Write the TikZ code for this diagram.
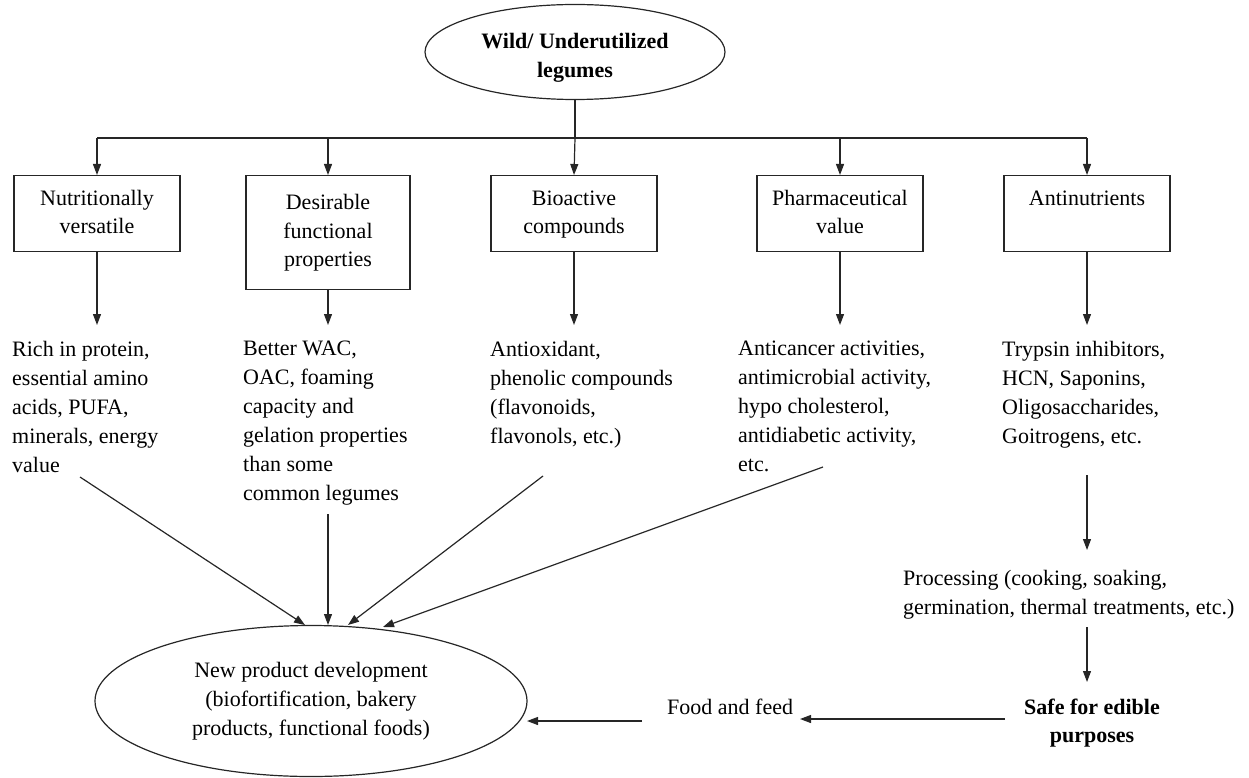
\documentclass[tikz,border=0pt]{standalone}
\usepackage{fontspec}
\setmainfont{Liberation Serif}
\usetikzlibrary{shapes.geometric,arrows.meta}
\begin{document}
\begin{tikzpicture}[x=1pt,y=-1pt,
  every node/.style={font=\fontsize{22}{29}\selectfont, inner sep=0pt},
  ln/.style={line width=1.2pt, draw=black!85},
  arr/.style={ln, -{Triangle[length=11pt,width=8pt]}},
  oval/.style={draw=black!85, line width=1.2pt, ellipse},
  catbox/.style={draw=black!85, line width=1.2pt, rectangle, minimum width=166pt, anchor=north, align=center, font=\fontsize{22}{28.5}\selectfont},
  desc/.style={anchor=north west, align=left}
]
\useasboundingbox (0,0) rectangle (1249,778);

% top ellipse
\node[oval, minimum width=300pt, minimum height=95pt, align=center, font=\fontsize{22}{29}\selectfont\bfseries] (wild) at (575,52) {\rule{0pt}{27pt}Wild/ Underutilized\\legumes};

% category boxes
\node[catbox, minimum height=76pt] (b1) at (97,175) {Nutritionally\strut\\versatile\strut};
\node[catbox, minimum height=114pt, minimum width=164pt] (b2) at (328,175) {Desirable\strut\\functional\strut\\properties\strut};
\node[catbox, minimum height=76pt] (b3) at (574,175) {Bioactive\strut\\compounds\strut};
\node[catbox, minimum height=76pt] (b4) at (840,175) {Pharmaceutical\strut\\value\strut};
\node[catbox, minimum height=76pt] (b5) at (1087,175) {Antinutrients\strut\\\strut};

% branch line
\coordinate (j0) at (575,138);
\coordinate (j1) at (97,138);
\coordinate (j2) at (328,138);
\coordinate (j4) at (840,138);
\coordinate (j5) at (1087,138);
\draw[ln] (wild.south) -- (j0);
\draw[ln] (j1) -- (j5);
\draw[arr] (j1) -- (b1.north);
\draw[arr] (j2) -- (b2.north);
\draw[arr] (j0) -- (b3.north);
\draw[arr] (j4) -- (b4.north);
\draw[arr] (j5) -- (b5.north);

% descriptions
\node[desc] (d1) at (12,341) {Rich in protein,\\essential amino\\acids, PUFA,\\minerals, energy\\value};
\node[desc] (d2) at (243,341) {Better WAC,\\OAC, foaming\\capacity and\\gelation properties\\than some\\common legumes};
\node[desc] (d3) at (490,341) {Antioxidant,\\phenolic compounds\\(flavonoids,\\flavonols, etc.)};
\node[desc] (d4) at (738,341) {Anticancer activities,\\antimicrobial activity,\\hypo cholesterol,\\antidiabetic activity,\\etc.};
\node[desc] (d5) at (1002,341) {Trypsin inhibitors,\\HCN, Saponins,\\Oligosaccharides,\\Goitrogens, etc.};

\coordinate (t1) at (97,325);
\coordinate (t2) at (328,325);
\coordinate (t3) at (574,325);
\coordinate (t4) at (840,325);
\coordinate (t5) at (1087,325);
\draw[arr] (b1.south) -- (t1);
\draw[arr] (b2.south) -- (t2);
\draw[arr] (b3.south) -- (t3);
\draw[arr] (b4.south) -- (t4);
\draw[arr] (b5.south) -- (t5);

% processing chain
\node[desc] (proc) at (903,570) {Processing (cooking, soaking,\\germination, thermal treatments, etc.)};
\node[anchor=north, align=center, font=\fontsize{22}{28}\selectfont\bfseries] (safe) at (1092,699) {Safe for edible\\purposes};
\coordinate (p0) at (1087,475);
\coordinate (p1) at (1087,550);
\coordinate (p2) at (1087,627);
\coordinate (p3) at (1087,682);
\draw[arr] (p0) -- (p1);
\draw[arr] (p2) -- (p3);

% new product development
\node[oval, minimum width=432pt, minimum height=151pt, align=center] (npd) at (311,701) {New product development\\(biofortification, bakery\\products, functional foods)};

\node[anchor=west] (food) at (667,707) {Food and feed};
\coordinate (s0) at (1005,719);
\coordinate (s1) at (800,719);
\draw[arr] (s0) -- (s1);
\coordinate (f0) at (642,721);
\coordinate (f1) at (527,721);
\draw[arr] (f0) -- (f1);

% converging arrows
\coordinate (c1s) at (80,477);
\coordinate (c1e) at (305,625);
\coordinate (c2s) at (328,514);
\coordinate (c2e) at (328,625);
\coordinate (c3s) at (543,476);
\coordinate (c3e) at (348,625);
\coordinate (c4s) at (823,467);
\coordinate (c4e) at (383,627);
\draw[arr] (c1s) -- (c1e);
\draw[arr] (c2s) -- (c2e);
\draw[arr] (c3s) -- (c3e);
\draw[arr] (c4s) -- (c4e);
\end{tikzpicture}
\end{document}
